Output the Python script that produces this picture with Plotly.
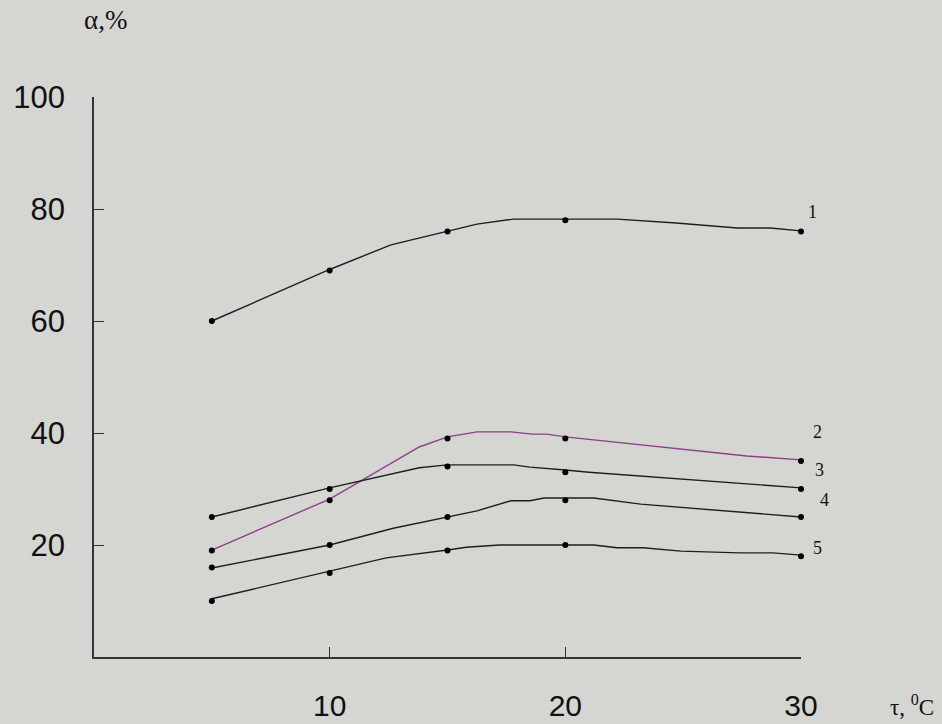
import plotly.graph_objects as go

# Measured points (markers)
x_pts = [5, 10, 15, 20, 30]
s1 = [60, 69, 76, 78, 76]
s2 = [19, 28, 39, 39, 35]
s3 = [25, 30, 34, 33, 30]
s4 = [16, 20, 25, 28, 25]
s5 = [10, 15, 19, 20, 18]

# Curve traces as drawn (including intermediate bends)
c1_x = [5, 10, 12.6, 15, 16.25, 17.8, 20, 22.2, 24.7, 27.3, 28.7, 30]
c1_y = [60, 69.2, 73.6, 76.1, 77.3, 78.2, 78.2, 78.2, 77.5, 76.6, 76.6, 76.1]
c2_x = [5, 10, 13.8, 15, 16.25, 17.7, 18.6, 19.2, 20, 27.7, 30]
c2_y = [19.1, 28.2, 37.5, 39.3, 40.2, 40.2, 39.8, 39.8, 39.3, 35.9, 35.2]
c3_x = [5, 10, 13.8, 15, 17.8, 18.5, 20, 21.0, 30]
c3_y = [25.0, 30.2, 33.8, 34.3, 34.3, 33.9, 33.4, 33.0, 30.2]
c4_x = [5, 10, 12.7, 15, 16.25, 17.7, 18.5, 19.1, 20, 21.2, 23.2, 30]
c4_y = [15.9, 20.0, 23.0, 25.0, 26.1, 27.9, 27.9, 28.4, 28.4, 28.4, 27.3, 25.0]
c5_x = [5, 10, 12.4, 15, 15.8, 17.2, 20, 21.2, 22.2, 23.3, 24.9, 27.4, 28.8, 30]
c5_y = [10.4, 15.4, 17.7, 19.1, 19.6, 20.0, 20.0, 20.0, 19.5, 19.5, 18.9, 18.6, 18.6, 18.2]

curve_labels = ["1", "2", "3", "4", "5"]
label_x = [30.5, 30.7, 30.8, 31.0, 30.7]
label_y = [79.5, 40.2, 33.4, 28.0, 19.5]

x_ticks = [10, 20, 30]
y_ticks = [20, 40, 60, 80, 100]
X_MAX = 30
Y_MAX = 100

BG = "#d5d5d1"
PURPLE = "#8e3f8e"
DARK = "#1e1e1e"

fig = go.Figure()
curves = [(c1_x, c1_y, DARK), (c2_x, c2_y, PURPLE), (c3_x, c3_y, DARK),
          (c4_x, c4_y, DARK), (c5_x, c5_y, DARK)]
for cx, cy, col in curves:
    fig.add_trace(go.Scatter(x=cx, y=cy, mode="lines",
                             line=dict(color=col, width=1.4),
                             hoverinfo="skip", showlegend=False))
for s in [s1, s2, s3, s4, s5]:
    fig.add_trace(go.Scatter(x=x_pts, y=s, mode="markers",
                             marker=dict(color="black", size=6),
                             showlegend=False, cliponaxis=False))

for t, lx, ly in zip(curve_labels, label_x, label_y):
    fig.add_annotation(x=lx / X_MAX, y=ly / Y_MAX, xref="paper", yref="paper",
                       xanchor="center", yanchor="middle",
                       text=t, showarrow=False,
                       font=dict(family="Liberation Serif", size=18, color="#111"))

fig.add_annotation(x=0.47 / X_MAX, y=113.8 / Y_MAX, xref="paper", yref="paper",
                   xanchor="center", yanchor="middle",
                   text="α,%", showarrow=False,
                   font=dict(family="Liberation Serif", size=27, color="#111"))
fig.add_annotation(x=34.7 / X_MAX, y=-8.6 / Y_MAX, xref="paper", yref="paper",
                   xanchor="center", yanchor="middle",
                   text="τ, <sup>0</sup>C", showarrow=False,
                   font=dict(family="Liberation Serif", size=23, color="#111"))

fig.update_layout(
    width=942, height=724,
    margin=dict(l=94, r=141, t=97, b=67),
    paper_bgcolor=BG, plot_bgcolor=BG,
    showlegend=False,
)
fig.update_xaxes(range=[0, X_MAX], showgrid=False, zeroline=False, automargin=False,
                 showline=True, linecolor="#333", linewidth=1.5,
                 ticks="inside", ticklen=10, tickwidth=1.2, tickcolor="#333",
                 tickvals=x_ticks, ticktext=[str(v) for v in x_ticks],
                 ticklabelstandoff=21,
                 tickfont=dict(family="Liberation Sans", size=30, color="#111"))
fig.update_yaxes(range=[0, Y_MAX], showgrid=False, zeroline=False, automargin=False,
                 showline=True, linecolor="#333", linewidth=1.5,
                 ticks="inside", ticklen=10, tickwidth=1.2, tickcolor="#333",
                 tickvals=y_ticks, ticktext=[str(v) for v in y_ticks],
                 ticklabelstandoff=21,
                 tickfont=dict(family="Liberation Sans", size=31, color="#111"))

fig.write_html("out.html", config={"displayModeBar": False},
               post_script="document.body.style.margin='0px';document.body.style.background='%s';" % BG)
